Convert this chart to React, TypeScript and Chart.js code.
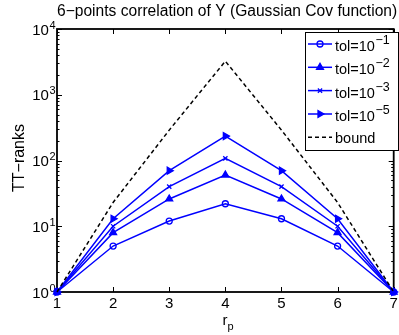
import React, { useEffect, useRef } from "react";
import { Chart, registerables } from "chart.js";
import { drawPoint } from "chart.js/helpers";

Chart.register(...registerables);

// TT-ranks r_p for each tolerance, plus the theoretical bound
const ranksP = [1, 2, 3, 4, 5, 6, 7];
const tol1 = [1, 5, 12, 22, 13, 5, 1];
const tol2 = [1, 8, 26, 60, 26, 8, 1];
const tol3 = [1, 10, 40, 108, 40, 10, 1];
const tol5 = [1, 13, 70, 235, 70, 13, 1];
const bound = [1, 23, 290, 3240, 290, 23, 1];

const legendExps = ["\u22121", "\u22122", "\u22123", "\u22125"];
const xTicks = [1, 2, 3, 4, 5, 6, 7];
const yDecades = [0, 1, 2, 3, 4];

const TITLE = "6\u2212points correlation of Y (Gaussian Cov function)";
const Y_LABEL = "TT\u2212ranks";
const FONT = "'Liberation Sans', Arial, Helvetica, sans-serif";
const BLUE = "#0000ff";

type Marker = { style: string; rotation: number; radius: number; fill: string };
const markers: Marker[] = [
  { style: "circle", rotation: 0, radius: 3, fill: "rgba(0,0,0,0)" },
  { style: "triangle", rotation: 0, radius: 4, fill: BLUE },
  { style: "crossRot", rotation: 0, radius: 3, fill: BLUE },
  { style: "triangle", rotation: 90, radius: 4, fill: BLUE },
];

const toPoints = (vals: number[]) => ranksP.map((x, i) => ({ x, y: vals[i] }));

// base text with a raised exponent, e.g. 10^-1
function drawPow(
  ctx: CanvasRenderingContext2D,
  base: string,
  exp: string,
  x: number,
  y: number,
  align: "left" | "right",
  baseSize: number,
  expSize: number,
  rise: number
) {
  ctx.textBaseline = "middle";
  ctx.font = `${baseSize}px ${FONT}`;
  const bw = ctx.measureText(base).width;
  ctx.font = `${expSize}px ${FONT}`;
  const ew = ctx.measureText(exp).width;
  const left = align === "left" ? x : x - bw - ew;
  ctx.textAlign = "left";
  ctx.font = `${baseSize}px ${FONT}`;
  ctx.fillText(base, left, y);
  ctx.font = `${expSize}px ${FONT}`;
  ctx.fillText(exp, left + bw + 0.5, y - rise);
}

const axesPlugin = {
  id: "matlabAxes",
  beforeDatasetsDraw(chart: any) {
    const { ctx, chartArea: a, scales } = chart;
    const xs = scales.x;
    const ys = scales.y;
    ctx.save();
    ctx.strokeStyle = "#000";
    ctx.fillStyle = "#000";
    ctx.lineWidth = 1;
    // x ticks (bottom and top, pointing inward)
    ctx.beginPath();
    xTicks.forEach((t) => {
      const px = Math.round(xs.getPixelForValue(t)) + 0.5;
      ctx.moveTo(px, a.bottom);
      ctx.lineTo(px, a.bottom - 5);
      ctx.moveTo(px, a.top);
      ctx.lineTo(px, a.top + 5);
    });
    // y ticks, major and minor on a log axis
    yDecades.forEach((d) => {
      const py = Math.round(ys.getPixelForValue(Math.pow(10, d))) + 0.5;
      ctx.moveTo(a.left, py);
      ctx.lineTo(a.left + 5, py);
      ctx.moveTo(a.right, py);
      ctx.lineTo(a.right - 5, py);
      if (d < 4) {
        for (let m = 2; m <= 9; m++) {
          const my = Math.round(ys.getPixelForValue(m * Math.pow(10, d))) + 0.5;
          ctx.moveTo(a.left, my);
          ctx.lineTo(a.left + 2.5, my);
          ctx.moveTo(a.right, my);
          ctx.lineTo(a.right - 2.5, my);
        }
      }
    });
    ctx.stroke();
    // axes box
    ctx.lineWidth = 1.8;
    ctx.strokeRect(a.left, a.top, a.right - a.left, a.bottom - a.top);

    // tick labels
    ctx.font = `15px ${FONT}`;
    ctx.textAlign = "center";
    ctx.textBaseline = "middle";
    xTicks.forEach((t) => {
      ctx.fillText(String(t), xs.getPixelForValue(t), a.bottom + 12);
    });
    yDecades.forEach((d) => {
      drawPow(ctx, "10", String(d), a.left - 2, ys.getPixelForValue(Math.pow(10, d)) + 1.5, "right", 15, 11, 5);
    });

    // x label r_p
    ctx.textAlign = "left";
    ctx.textBaseline = "alphabetic";
    ctx.font = `15px ${FONT}`;
    ctx.fillText("r", 222.5, 325);
    ctx.font = `11px ${FONT}`;
    ctx.fillText("p", 227.5, 330);

    // y label
    ctx.save();
    ctx.translate(19.5, 158);
    ctx.rotate(-Math.PI / 2);
    ctx.font = `16px ${FONT}`;
    ctx.textAlign = "center";
    ctx.textBaseline = "middle";
    ctx.fillText(Y_LABEL, 0, 0);
    ctx.restore();

    // title
    ctx.font = `15.6px ${FONT}`;
    ctx.textAlign = "left";
    ctx.textBaseline = "middle";
    ctx.fillText(TITLE, 57, 12);
    ctx.restore();
  },
  afterDraw(chart: any) {
    const { ctx } = chart;
    ctx.save();
    const bx = 305.5;
    const by = 32.5;
    const bw = 93;
    const bh = 118;
    ctx.fillStyle = "#fff";
    ctx.fillRect(bx, by, bw, bh);
    ctx.strokeStyle = "#000";
    ctx.lineWidth = 1;
    ctx.strokeRect(bx, by, bw, bh);

    const rowY = [44, 67.3, 90.6, 114, 137.3];
    const x0 = 308;
    const x1 = 332;
    const mid = (x0 + x1) / 2;
    legendExps.forEach((e, i) => {
      const y = rowY[i];
      ctx.strokeStyle = BLUE;
      ctx.lineWidth = 1.5;
      ctx.setLineDash([]);
      ctx.beginPath();
      ctx.moveTo(x0, y);
      ctx.lineTo(x1, y);
      ctx.stroke();
      const m = markers[i];
      ctx.fillStyle = m.fill;
      ctx.strokeStyle = BLUE;
      ctx.lineWidth = 1.3;
      drawPoint(ctx, { pointStyle: m.style as any, rotation: m.rotation, radius: m.radius, borderWidth: 1.3 }, mid, y);
      ctx.fillStyle = "#000";
      drawPow(ctx, "tol=10", e, 335, y + 3, "left", 14.5, 12.5, 6.5);
    });
    // bound entry
    const y = rowY[4];
    ctx.strokeStyle = "#000";
    ctx.lineWidth = 1.5;
    ctx.setLineDash([4, 3]);
    ctx.beginPath();
    ctx.moveTo(x0, y);
    ctx.lineTo(x1, y);
    ctx.stroke();
    ctx.setLineDash([]);
    ctx.fillStyle = "#000";
    ctx.font = `14.5px ${FONT}`;
    ctx.textAlign = "left";
    ctx.textBaseline = "middle";
    ctx.fillText("bound", 335, y + 2);
    ctx.restore();
  },
};

export default function App() {
  const ref = useRef<HTMLCanvasElement | null>(null);

  useEffect(() => {
    document.body.style.margin = "0";
    const canvas = ref.current;
    if (!canvas) return;

    const series = [tol1, tol2, tol3, tol5].map((vals, i) => ({
      label: `tol=10${legendExps[i]}`,
      data: toPoints(vals),
      borderColor: BLUE,
      borderWidth: 1.5,
      pointStyle: markers[i].style as any,
      pointRotation: markers[i].rotation,
      pointRadius: markers[i].radius,
      pointBorderWidth: 1.3,
      pointBorderColor: BLUE,
      pointBackgroundColor: markers[i].fill,
      fill: false,
      tension: 0,
      clip: false as any,
    }));

    const chart = new Chart(canvas, {
      type: "line",
      data: {
        datasets: [
          {
            label: "bound",
            data: toPoints(bound),
            borderColor: "#000",
            borderWidth: 1.5,
            borderDash: [4, 3],
            pointRadius: 0,
            fill: false,
            tension: 0,
            clip: false as any,
          },
          ...series,
        ],
      },
      options: {
        responsive: false,
        animation: false,
        devicePixelRatio: 1,
        layout: { padding: { left: 57, top: 29, right: 0, bottom: 43 } },
        scales: {
          x: { type: "linear", min: 1, max: 7, display: false },
          y: { type: "logarithmic", min: 1, max: 10000, display: false },
        },
        plugins: {
          legend: { display: false },
          tooltip: { enabled: false },
          title: { display: false },
        },
      },
      plugins: [axesPlugin],
    });
    return () => chart.destroy();
  }, []);

  return (
    <div style={{ width: 399, height: 335, background: "#fff" }}>
      <canvas ref={ref} width={399} height={335} style={{ width: 399, height: 335, display: "block" }} />
    </div>
  );
}
